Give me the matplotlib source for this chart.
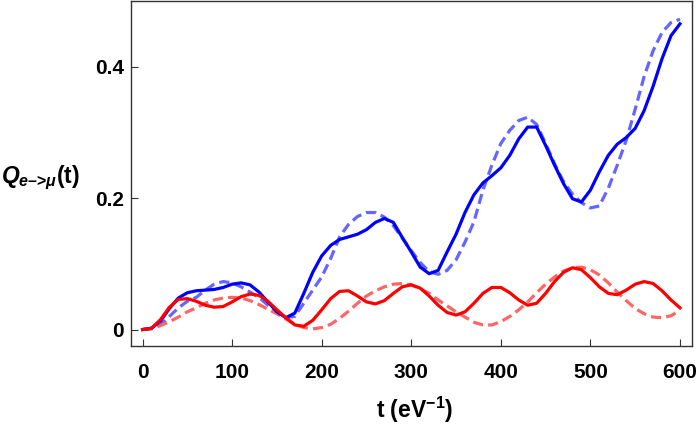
import numpy as np
import matplotlib
matplotlib.use("Agg")
import matplotlib.pyplot as plt
from matplotlib.ticker import FuncFormatter

plt.rcParams['font.family'] = ['Liberation Sans', 'DejaVu Sans']
plt.rcParams['font.weight'] = 'bold'
plt.rcParams['mathtext.fontset'] = 'custom'
plt.rcParams['mathtext.rm'] = 'Liberation Sans:bold'
plt.rcParams['mathtext.bf'] = 'Liberation Sans:bold'
plt.rcParams['mathtext.it'] = 'Liberation Sans:bold:italic'

# time axis (eV^-1), step 10
t = np.arange(0, 601, 10)

# solid blue
q_blue = [0, 0.002, 0.013, 0.032, 0.048, 0.056, 0.059, 0.060, 0.061, 0.064,
          0.069, 0.071, 0.068, 0.057, 0.042, 0.027, 0.018, 0.025, 0.055, 0.087,
          0.112, 0.128, 0.137, 0.141, 0.145, 0.152, 0.163, 0.169, 0.163, 0.140,
          0.118, 0.095, 0.085, 0.090, 0.118, 0.145, 0.178, 0.205, 0.223, 0.234,
          0.246, 0.265, 0.290, 0.308, 0.308, 0.280, 0.250, 0.222, 0.199, 0.194,
          0.212, 0.240, 0.265, 0.282, 0.292, 0.306, 0.333, 0.370, 0.412, 0.447,
          0.465]

# dashed blue
q_blue_d = [0, 0.001, 0.007, 0.020, 0.033, 0.043, 0.049, 0.060, 0.069, 0.073,
            0.071, 0.065, 0.057, 0.049, 0.037, 0.027, 0.018, 0.020, 0.040, 0.060,
            0.080, 0.108, 0.141, 0.160, 0.172, 0.178, 0.178, 0.171, 0.158, 0.139,
            0.120, 0.102, 0.088, 0.084, 0.090, 0.106, 0.133, 0.164, 0.212, 0.250,
            0.283, 0.303, 0.318, 0.323, 0.312, 0.283, 0.252, 0.225, 0.206, 0.193,
            0.185, 0.188, 0.215, 0.250, 0.288, 0.335, 0.385, 0.424, 0.452, 0.467,
            0.472]

# solid red
q_red = [0, 0.002, 0.015, 0.034, 0.046, 0.047, 0.043, 0.037, 0.034, 0.035,
         0.042, 0.050, 0.054, 0.052, 0.043, 0.030, 0.018, 0.007, 0.005, 0.014,
         0.030, 0.047, 0.058, 0.059, 0.051, 0.042, 0.039, 0.044, 0.055, 0.065,
         0.068, 0.063, 0.051, 0.037, 0.026, 0.022, 0.027, 0.040, 0.055, 0.064,
         0.064, 0.056, 0.045, 0.037, 0.040, 0.055, 0.073, 0.087, 0.094, 0.091,
         0.079, 0.065, 0.055, 0.053, 0.060, 0.069, 0.073, 0.070, 0.059, 0.045,
         0.033]

# dashed red
q_red_d = [0, 0.002, 0.006, 0.012, 0.019, 0.027, 0.033, 0.040, 0.045, 0.048,
           0.049, 0.048, 0.044, 0.038, 0.031, 0.024, 0.016, 0.008, 0.003, 0.001,
           0.003, 0.008, 0.017, 0.028, 0.040, 0.051, 0.059, 0.065, 0.069, 0.070,
           0.068, 0.062, 0.055, 0.045, 0.036, 0.027, 0.019, 0.011, 0.007, 0.007,
           0.012, 0.020, 0.030, 0.042, 0.056, 0.069, 0.080, 0.089, 0.094, 0.095,
           0.091, 0.083, 0.071, 0.057, 0.044, 0.032, 0.024, 0.019, 0.018, 0.021,
           0.029]

fig = plt.figure(figsize=(7, 4.24), dpi=100)
ax = fig.add_axes([0.187, 0.184, 0.801, 0.814])

lw = 2.3
ax.plot(t, q_blue_d, color='#6666ff', lw=lw, dashes=(3.2, 1.6),
        dash_capstyle='butt', dash_joinstyle='round')
ax.plot(t, q_red_d, color='#ff6666', lw=lw, dashes=(3.2, 1.6),
        dash_capstyle='butt', dash_joinstyle='round')
ax.plot(t, q_blue, color='#0000ff', lw=lw, solid_joinstyle='round')
ax.plot(t, q_red, color='#ff0000', lw=lw, solid_joinstyle='round')

ax.set_xlim(-13, 613)
ax.set_ylim(-0.025, 0.5)
ax.set_xticks([0, 100, 200, 300, 400, 500, 600])
ax.set_yticks([0, 0.2, 0.4])
ax.yaxis.set_major_formatter(FuncFormatter(lambda v, _: '0' if v == 0 else '%.1f' % v))

for s in ax.spines.values():
    s.set_color('#333333')
    s.set_linewidth(1.0)

ax.tick_params(direction='in', length=5, width=0.8, color='#333333', labelsize=15)
ax.tick_params(axis='x', pad=12)
ax.tick_params(axis='y', pad=5)

fig.text(0.002, 0.58, r'$Q_{e\text{–>}\mu}$(t)', fontsize=16.5, fontweight='bold',
         ha='left', va='center')
fig.text(0.593, 0.033, r't (eV$^{\mathrm{-1}}$)', fontsize=16.5, fontweight='bold',
         ha='center', va='center')

fig.savefig('out.png', dpi=100)
